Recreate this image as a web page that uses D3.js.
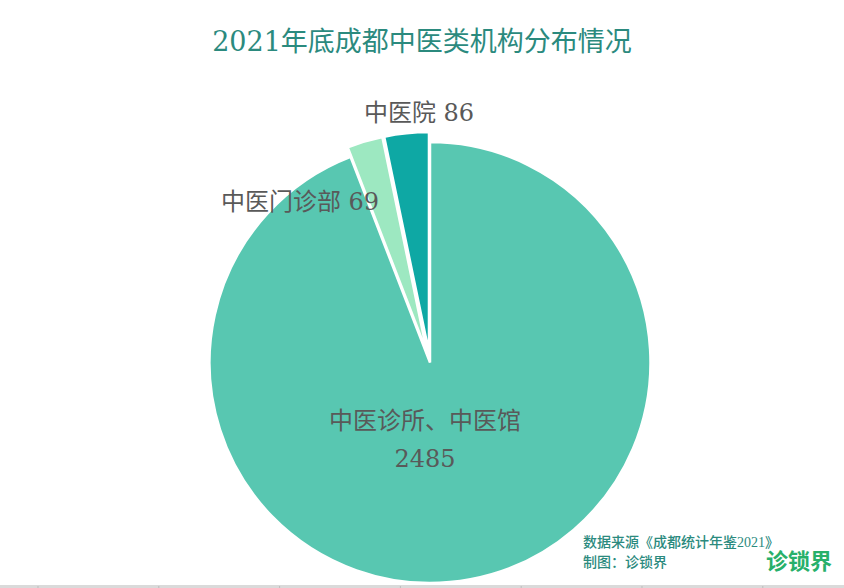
<!DOCTYPE html>
<html><head><meta charset="utf-8">
<script src="https://cdn.jsdelivr.net/npm/d3@7/dist/d3.min.js"></script>
<style>body{margin:0;background:#fff}svg{display:block}</style>
</head><body>
<svg id="chart" width="844" height="588"></svg>
<script>
const categories = ["中医诊所、中医馆", "中医门诊部", "中医院"];
const values = [2485, 69, 86];
const colors = ["#58C7B1", "#9DE8C1", "#0EA8A4"];
const title = "2021年底成都中医类机构分布情况";
const sourceLines = ["数据来源《成都统计年鉴2021》", "制图：诊锁界"];
const brand = "诊锁界";

const svg = d3.select("#chart");
const W = 844, H = 588;
const cx = 430, cy = 362.5, R = 220.5;
const explode = [0, 10, 10];
const font = "'DejaVu Serif','Noto Sans CJK SC',serif";

svg.append("rect").attr("width", W).attr("height", H).attr("fill", "#fff");

svg.append("text")
  .attr("x", 422).attr("y", 51)
  .attr("text-anchor", "middle")
  .attr("font-family", font)
  .attr("font-size", 27)
  .attr("fill", "#2B8A7E")
  .text(title);

const data = categories.map((c, i) => ({cat: c, value: values[i], i}));
const pie = d3.pie().value(d => d.value).sort(null).startAngle(0).endAngle(2 * Math.PI);
const arc = d3.arc().innerRadius(0).outerRadius(R);
const arcs = pie(data);

const g = svg.append("g").attr("transform", `translate(${cx},${cy})`);
g.selectAll("path").data(arcs).enter().append("path")
  .attr("d", arc)
  .attr("fill", d => colors[d.data.i])
  .attr("stroke", "#fff")
  .attr("stroke-width", 2.5)
  .attr("stroke-linejoin", "miter")
  .attr("transform", d => {
    const a = (d.startAngle + d.endAngle) / 2;
    const o = explode[d.data.i];
    return `translate(${o * Math.sin(a)},${-o * Math.cos(a)})`;
  });

// label layout (positions relative to pie centre)
const labelPos = [[-5, 58], [-130, -161], [-11, -250]];
arcs.forEach(d => {
  const i = d.data.i;
  const [lx, ly] = labelPos[i];
  const t = g.append("text")
    .attr("text-anchor", "middle")
    .attr("font-family", font)
    .attr("font-size", 24)
    .attr("fill", "#595959");
  if (i === 0) {
    t.append("tspan").attr("x", lx).attr("y", ly + 8).text(d.data.cat);
    t.append("tspan").attr("x", lx).attr("y", ly + 46).text(d.data.value);
  } else {
    t.attr("x", lx).attr("y", ly + 8).text(d.data.cat + " " + d.data.value);
  }
});

const src = svg.append("g");
sourceLines.forEach((s, k) => {
  src.append("text")
    .attr("x", 583).attr("y", 547 + k * 20)
    .attr("font-family", "'Liberation Serif','Noto Sans CJK SC',serif")
    .attr("font-size", 14)
    .attr("font-weight", 500)
    .attr("fill", "#2B8A7E")
    .text(s);
});
svg.append("text")
  .attr("x", 766).attr("y", 569)
  .attr("font-family", "'Noto Sans CJK SC',sans-serif")
  .attr("font-size", 22)
  .attr("font-weight", "bold")
  .attr("fill", "#27B06A")
  .text(brand);

// spreadsheet edge strip at bottom
svg.append("rect").attr("x", 0).attr("y", 585).attr("width", W).attr("height", 3).attr("fill", "#DADADA");
d3.range(38, W, 120.8).forEach(x => {
  svg.append("line").attr("x1", x).attr("x2", x).attr("y1", 586).attr("y2", 588)
    .attr("stroke", "#BDBDBD").attr("stroke-width", 1);
});
</script>
</body></html>
